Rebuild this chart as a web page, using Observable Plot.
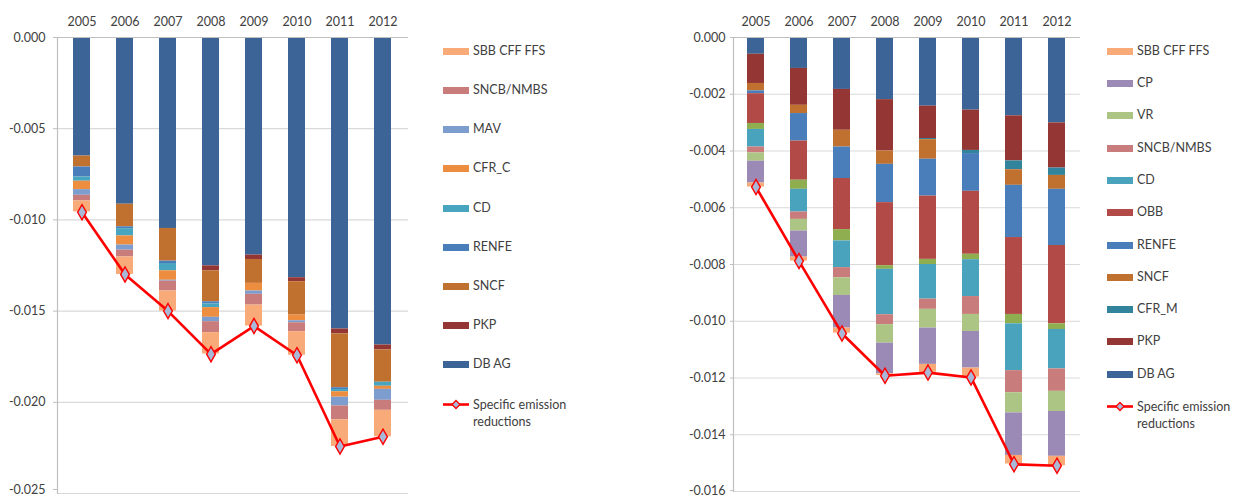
<!DOCTYPE html>
<html>
<head>
<meta charset="utf-8">
<script src="https://cdn.jsdelivr.net/npm/d3@7"></script>
<script src="https://cdn.jsdelivr.net/npm/@observablehq/plot@0.6"></script>
<style>
  html, body { margin: 0; padding: 0; background: #fff; overflow: hidden; }
  #root { position: relative; width: 1236px; height: 498px; font-family: Lato, "Liberation Sans", sans-serif; color: #404040; }
  .chart { position: absolute; top: 0; }
  .legend { position: absolute; font-size: 12.5px; color: #404040; }
  .item { position: absolute; left: 0; display: flex; align-items: flex-start; white-space: nowrap; }
  .sw { width: 26px; height: 7px; margin-right: 4px; margin-top: 5px; flex: none; }
  .item svg { margin-right: 4px; flex: none; }
</style>
</head>
<body>
<div id="root"></div>
<script>
// ---------- shared categories ----------
const years = ["2005", "2006", "2007", "2008", "2009", "2010", "2011", "2012"];

// ---------- LEFT CHART (negative = reduction) ----------
const leftSeries = ["DB AG", "PKP", "SNCF", "RENFE", "CD", "CFR_C", "MAV", "SNCB/NMBS", "SBB CFF FFS"];
const leftColors = ["#3c6496", "#943634", "#c1712f", "#4a7ebb", "#47a5bf", "#ec8d3f", "#7e9dcf", "#c87c7b", "#f8aa78"];
const leftDBAG   = [-0.00650, -0.00914, -0.01047, -0.01252, -0.01193, -0.01317, -0.01598, -0.01686];
const leftPKP    = [0, 0, 0, -0.00027, -0.00024, -0.00022, -0.00027, -0.00027];
const leftSNCF   = [-0.00060, -0.00124, -0.00179, -0.00170, -0.00131, -0.00183, -0.00295, -0.00177];
const leftRENFE  = [-0.00055, -0.00010, -0.00013, -0.00012, 0, 0, -0.00010, 0];
const leftCD     = [-0.00023, -0.00040, -0.00040, -0.00020, 0, 0, -0.00012, -0.00022];
const leftCFRC   = [-0.00046, -0.00050, -0.00052, -0.00053, -0.00042, -0.00031, -0.00030, -0.00017];
const leftMAV    = [-0.00031, -0.00028, -0.00005, -0.00024, -0.00018, -0.00011, -0.00048, -0.00060];
const leftSNCB   = [-0.00031, -0.00037, -0.00054, -0.00060, -0.00059, -0.00049, -0.00076, -0.00055];
const leftSBB    = [-0.00060, -0.00096, -0.00110, -0.00117, -0.00115, -0.00129, -0.00146, -0.00145];
const leftLine   = [-0.00958, -0.01299, -0.01500, -0.01736, -0.01582, -0.01742, -0.02242, -0.02189];
const leftTicks  = [0, -0.005, -0.010, -0.015, -0.020, -0.025];
const leftLegend = ["SBB CFF FFS", "SNCB/NMBS", "MAV", "CFR_C", "CD", "RENFE", "SNCF", "PKP", "DB AG"];

// ---------- RIGHT CHART ----------
const rightSeries = ["DB AG", "PKP", "CFR_M", "SNCF", "RENFE", "OBB", "(unlabelled)", "CD", "SNCB/NMBS", "VR", "CP", "SBB CFF FFS"];
const rightColors = ["#3c6496", "#943634", "#31849b", "#c1712f", "#4a7ebb", "#b24a47", "#8fae50", "#4aa3bc", "#c87c7b", "#adc584", "#9b8ab6", "#f8aa78"];
const rightDBAG  = [-0.00059, -0.00109, -0.00183, -0.00219, -0.00242, -0.00256, -0.00276, -0.00301];
const rightPKP   = [-0.00103, -0.00130, -0.00144, -0.00181, -0.00114, -0.00142, -0.00159, -0.00159];
const rightCFRM  = [0, 0, 0, 0, -0.00004, -0.00011, -0.00031, -0.00026];
const rightSNCF  = [-0.00026, -0.00029, -0.00059, -0.00047, -0.00069, 0, -0.00055, -0.00049];
const rightRENFE = [-0.00010, -0.00097, -0.00111, -0.00135, -0.00130, -0.00133, -0.00184, -0.00198];
const rightOBB   = [-0.00105, -0.00138, -0.00180, -0.00222, -0.00223, -0.00222, -0.00271, -0.00276];
const rightGreen = [-0.00021, -0.00032, -0.00040, -0.00013, -0.00018, -0.00019, -0.00033, -0.00020];
const rightCD    = [-0.00062, -0.00080, -0.00094, -0.00160, -0.00122, -0.00130, -0.00165, -0.00139];
const rightSNCB  = [-0.00021, -0.00026, -0.00036, -0.00035, -0.00036, -0.00063, -0.00078, -0.00079];
const rightVR    = [-0.00029, -0.00041, -0.00062, -0.00065, -0.00066, -0.00060, -0.00071, -0.00071];
const rightCP    = [-0.00077, -0.00092, -0.00115, -0.00108, -0.00128, -0.00129, -0.00150, -0.00158];
const rightSBB   = [-0.00014, -0.00014, -0.00018, -0.00006, -0.00028, -0.00032, -0.00030, -0.00033];
const rightLine  = [-0.00527, -0.00788, -0.01043, -0.01192, -0.01181, -0.01198, -0.01504, -0.01509];
const rightTicks = [0, -0.002, -0.004, -0.006, -0.008, -0.010, -0.012, -0.014, -0.016];
const rightLegend = ["SBB CFF FFS", "CP", "VR", "SNCB/NMBS", "CD", "OBB", "RENFE", "SNCF", "CFR_M", "PKP", "DB AG"];

const lineLabel = "Specific emission reductions";

function makeChart(o) {
  const rows = o.series.flatMap((s, i) => years.map((yr, j) => ({year: yr, series: s, value: o.values[i][j]})));
  const pts = years.map((yr, j) => ({year: yr, value: o.line[j]}));
  const fmt = d => (Math.abs(d) < 1e-12 ? 0 : d).toFixed(3);
  const axisOpts = {tickFormat: fmt, tickSize: o.tickSize, tickPadding: o.tickPadding, stroke: "#bfbfbf", fill: "#404040", label: null};
  return Plot.plot({
    width: o.width, height: 498,
    marginLeft: o.marginLeft, marginRight: o.marginRight,
    marginTop: o.marginTop, marginBottom: o.marginBottom,
    style: {fontFamily: "Lato, 'Liberation Sans', sans-serif", fontSize: "12.5px", color: "#404040", background: "white", overflow: "visible"},
    x: {domain: years, paddingInner: 0.6, paddingOuter: 0.3, align: 0.5, label: null, axis: null},
    y: {domain: [o.ticks[o.ticks.length - 1], 0], label: null, axis: null},
    color: {domain: o.series, range: o.colors},
    marks: [
      Plot.gridY(o.ticks, {stroke: "#d9d9d9", strokeOpacity: 1, strokeWidth: 1.2}),
      Plot.axisY(o.ticks.slice(0, -1), axisOpts),
      Plot.axisY(o.ticks.slice(-1), {...axisOpts, textStroke: "none", dy: o.lastDy}),
      Plot.axisX({anchor: "top", tickSize: 0, tickPadding: 12, fill: "#404040", label: null}),
      Plot.barY(rows, {x: "year", y: "value", fill: "series", z: "series", order: o.series, inset: 0}),
      Plot.ruleY([0], {stroke: "#bfbfbf", strokeWidth: 1.2}),
      Plot.frame({anchor: "left", stroke: "#bfbfbf", strokeWidth: 1.2}),
      Plot.line(pts, {x: "year", y: "value", stroke: "#ff0000", strokeWidth: 2.6}),
      Plot.dot(pts, {x: "year", y: "value", symbol: "diamond", r: 4.6, fill: "#a9b8d6", stroke: "#ff0000", strokeWidth: 1.4})
    ]
  });
}

const root = document.getElementById("root");

const left = makeChart({
  series: leftSeries, colors: leftColors,
  values: [leftDBAG, leftPKP, leftSNCF, leftRENFE, leftCD, leftCFRC, leftMAV, leftSNCB, leftSBB],
  line: leftLine, ticks: leftTicks,
  width: 420, marginLeft: 57, marginRight: 12, marginTop: 37, marginBottom: 5,
  tickSize: 4, tickPadding: 8, lastDy: -4
});
left.classList.add("chart");
left.style.left = "0px";
root.appendChild(left);

const right = makeChart({
  series: rightSeries, colors: rightColors,
  values: [rightDBAG, rightPKP, rightCFRM, rightSNCF, rightRENFE, rightOBB, rightGreen, rightCD, rightSNCB, rightVR, rightCP, rightSBB],
  line: rightLine, ticks: rightTicks,
  width: 400, marginLeft: 53, marginRight: 0, marginTop: 37, marginBottom: 7,
  tickSize: 3, tickPadding: 5, lastDy: -1
});
right.classList.add("chart");
right.style.left = "680px";
root.appendChild(right);

function makeLegend(names, series, colors, x, y0, step) {
  const lg = document.createElement("div");
  lg.className = "legend";
  lg.style.left = x + "px";
  lg.style.top = "0px";
  names.forEach((n, k) => {
    const it = document.createElement("div");
    it.className = "item";
    it.style.top = (y0 + k * step - 9) + "px";
    const sw = document.createElement("div");
    sw.className = "sw";
    sw.style.background = colors[series.indexOf(n)];
    const tx = document.createElement("span");
    tx.textContent = n;
    it.appendChild(sw); it.appendChild(tx);
    lg.appendChild(it);
  });
  const it = document.createElement("div");
  it.className = "item";
  it.style.top = (y0 + names.length * step - 9) + "px";
  it.innerHTML = '<svg width="26" height="16"><line x1="0" x2="26" y1="8.5" y2="8.5" stroke="#ff0000" stroke-width="2.6"/>' +
    '<path d="M13,4.5 L17,8.5 L13,12.5 L9,8.5 Z" fill="#a9b8d6" stroke="#ff0000" stroke-width="1.3"/></svg>';
  const tx = document.createElement("span");
  tx.style.whiteSpace = "normal";
  tx.style.width = "100px";
  tx.style.lineHeight = "17px";
  tx.textContent = lineLabel;
  it.appendChild(tx);
  lg.appendChild(it);
  root.appendChild(lg);
}

makeLegend(leftLegend, leftSeries, leftColors, 443, 51.7, 39.2);
makeLegend(rightLegend, rightSeries, rightColors, 1107, 51.7, 32.3);
</script>
</body>
</html>
